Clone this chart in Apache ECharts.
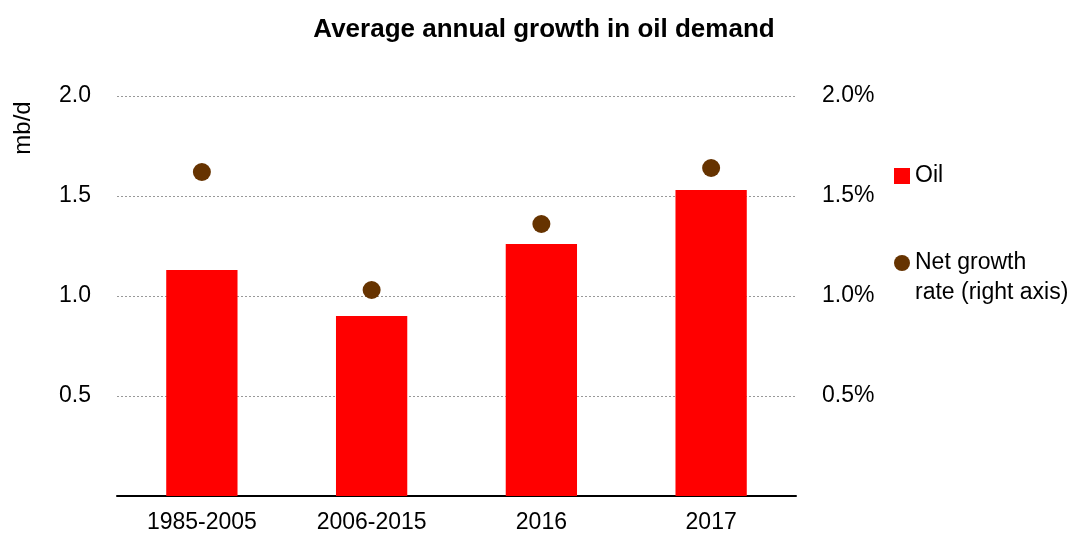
<!DOCTYPE html>
<html><head><meta charset="utf-8">
<script src="https://cdn.jsdelivr.net/npm/echarts@6/dist/echarts.min.js"></script>
<style>html,body{margin:0;padding:0;background:#fff}#c{width:1082px;height:534px}</style>
</head><body><div id="c"></div>
<script>
var categories = ['1985-2005', '2006-2015', '2016', '2017'];
var oilValues = [1.13, 0.90, 1.26, 1.53];
var growthRates = [1.62, 1.03, 1.36, 1.64];
var leftTicks = [0, 0.5, 1.0, 1.5, 2.0];
var rightTicks = [0, 0.5, 1.0, 1.5, 2.0];

var FONT = 'Liberation Sans';
var GROWTH = 'Net growth rate (right axis)';
var chart = echarts.init(document.getElementById('c'));
chart.setOption({
  animation: false,
  title: {
    text: 'Average annual growth in oil demand',
    left: 539, top: 12, textAlign: 'center',
    textStyle: {fontFamily: FONT, fontSize: 26, fontWeight: 'bold', color: '#000'}
  },
  graphic: [{
    type: 'text', x: 23, y: 128, rotation: Math.PI / 2,
    style: {text: 'mb/d', fontFamily: FONT, fontSize: 24, fill: '#000', align: 'center', verticalAlign: 'middle'}
  }],
  legend: {
    orient: 'vertical', left: 889, top: 156, itemGap: 27,
    itemWidth: 16, itemHeight: 16,
    textStyle: {fontFamily: FONT, fontSize: 23, color: '#000', lineHeight: 30},
    formatter: function (name) {
      return name === GROWTH ? ' \nNet growth\nrate (right axis)' : name;
    },
    data: [
      {name: 'Oil', icon: 'rect'},
      {name: GROWTH, icon: 'circle'}
    ]
  },
  grid: {left: 117, right: 286, top: 96, bottom: 38},
  xAxis: {
    type: 'category', data: categories,
    axisLine: {lineStyle: {color: '#000', width: 2}},
    axisTick: {show: false},
    axisLabel: {fontFamily: FONT, fontSize: 23, color: '#000', margin: 15}
  },
  yAxis: [{
    type: 'value', min: leftTicks[0], max: leftTicks[leftTicks.length - 1], interval: 0.5,
    axisLine: {show: false}, axisTick: {show: false},
    axisLabel: {fontFamily: FONT, fontSize: 23, color: '#000', margin: 26,
      formatter: function (v) { return v === 0 ? '' : v.toFixed(1); }},
    splitLine: {lineStyle: {color: '#999', type: [2, 2], width: 1}}
  }, {
    type: 'value', min: rightTicks[0], max: rightTicks[rightTicks.length - 1], interval: 0.5,
    axisLine: {show: false}, axisTick: {show: false},
    axisLabel: {fontFamily: FONT, fontSize: 23, color: '#000', margin: 26,
      formatter: function (v) { return v === 0 ? '' : v.toFixed(1) + '%'; }},
    splitLine: {show: false}
  }],
  series: [{
    name: 'Oil', type: 'bar', data: oilValues, barWidth: '42%',
    itemStyle: {color: '#FF0000'}
  }, {
    name: GROWTH, type: 'scatter', yAxisIndex: 1,
    data: growthRates, symbolSize: 18, itemStyle: {color: '#663300', opacity: 1}
  }]
});
</script></body></html>
